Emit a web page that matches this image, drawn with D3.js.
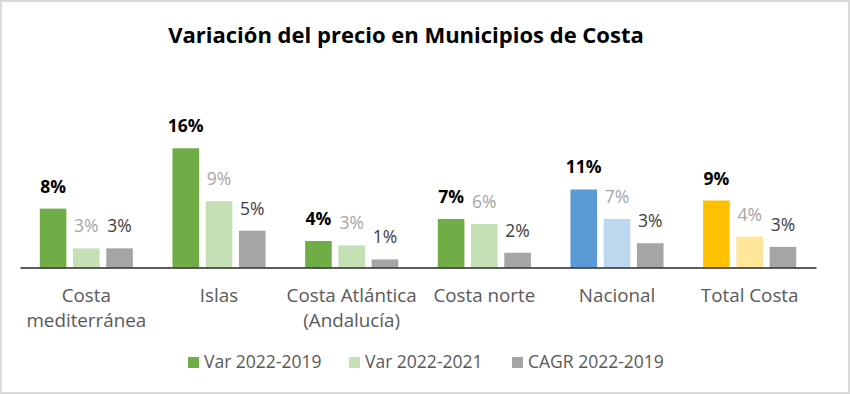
<!DOCTYPE html>
<html>
<head>
<meta charset="utf-8">
<script src="https://cdn.jsdelivr.net/npm/d3@7"></script>
<style>
  body { margin: 0; background: #fff; }
  svg { display: block; font-family: "Open Sans", "Noto Sans", sans-serif; }
</style>
</head>
<body>
<script>
// data (values in %)
var categories = ["Costa mediterránea", "Islas", "Costa Atlántica (Andalucía)", "Costa norte", "Nacional", "Total Costa"];
var categoryLines = [["Costa", "mediterránea"], ["Islas"], ["Costa Atlántica", "(Andalucía)"], ["Costa norte"], ["Nacional"], ["Total Costa"]];
var series = ["Var 2022-2019", "Var 2022-2021", "CAGR 2022-2019"];
var var2019 = [8.0, 16.2, 3.6, 6.6, 10.6, 9.1];
var var2021 = [2.6, 9.0, 3.0, 5.9, 6.6, 4.2];
var cagr2019 = [2.6, 5.0, 1.1, 2.0, 3.3, 2.8];
var values = [var2019, var2021, cagr2019];

var width = 850, height = 395;
var baseY = 267.5;

var seriesColor = ["#70ad47", "#c5e0b4", "#a5a5a5"];
var specialColor = {
  "Nacional": ["#5b9bd5", "#bdd7ee", "#a5a5a5"],
  "Total Costa": ["#ffc000", "#ffe699", "#a5a5a5"]
};
var labelStyle = [
  {fill: "#000", weight: "bold"},
  {fill: "#a6a6a6", weight: "normal"},
  {fill: "#404040", weight: "normal"}
];

var svg = d3.select("body").append("svg")
  .attr("width", width)
  .attr("height", height);

svg.append("rect")
  .attr("x", 1).attr("y", 1)
  .attr("width", width - 2).attr("height", height - 3)
  .attr("fill", "#fff")
  .attr("stroke", "#d9d9d9")
  .attr("stroke-width", 2);

svg.append("text")
  .attr("x", 406).attr("y", 43)
  .attr("text-anchor", "middle")
  .style("font-size", "22px")
  .style("font-weight", "bold")
  .attr("fill", "#000")
  .text("Variación del precio en Municipios de Costa");

var x0 = d3.scaleBand().domain(categories).range([20, 816]).padding(0);
var x1 = d3.scaleBand().domain(series)
  .range([19.8, x0.bandwidth() - 19.8])
  .paddingInner(0.2);
var y = d3.scaleLinear().domain([0, 20]).range([baseY, baseY - 147.2]);

var rows = [];
categories.forEach(function(c, i) {
  series.forEach(function(s, j) {
    rows.push({cat: c, s: s, j: j, v: values[j][i]});
  });
});

var groups = svg.append("g");

groups.selectAll("rect.bar")
  .data(rows)
  .enter().append("rect")
  .attr("class", "bar")
  .attr("x", function(d) { return x0(d.cat) + x1(d.s); })
  .attr("y", function(d) { return y(d.v); })
  .attr("width", x1.bandwidth())
  .attr("height", function(d) { return baseY - y(d.v); })
  .attr("fill", function(d) {
    return (specialColor[d.cat] || seriesColor)[d.j];
  });

groups.selectAll("text.val")
  .data(rows)
  .enter().append("text")
  .attr("class", "val")
  .attr("x", function(d) { return x0(d.cat) + x1(d.s) + x1.bandwidth() / 2; })
  .attr("y", function(d) { return y(d.v) - 16; })
  .attr("text-anchor", "middle")
  .style("font-size", "17.5px")
  .style("font-weight", function(d) { return labelStyle[d.j].weight; })
  .attr("fill", function(d) { return labelStyle[d.j].fill; })
  .text(function(d) { return Math.round(d.v) + "%"; });

// category axis
var xAxis = d3.axisBottom(x0).tickSize(0).tickFormat("");
var axisG = svg.append("g")
  .attr("transform", "translate(0," + baseY + ")")
  .call(xAxis);
axisG.select(".domain").attr("stroke", "#262626").attr("stroke-width", 1.5);

var catLabels = svg.append("g").selectAll("text.cat")
  .data(categories)
  .enter().append("text")
  .attr("class", "cat")
  .attr("x", function(d) { return x0(d) + x0.bandwidth() / 2; })
  .attr("y", 302)
  .attr("text-anchor", "middle")
  .style("font-size", "18.8px")
  .attr("fill", "#595959");

catLabels.each(function(d, i) {
  var t = d3.select(this);
  categoryLines[i].forEach(function(line, k) {
    t.append("tspan")
      .attr("x", x0(d) + x0.bandwidth() / 2)
      .attr("dy", k === 0 ? 0 : 25)
      .text(line);
  });
});

// legend
var legendX = [188, 349, 512];
var legend = svg.append("g").selectAll("g.leg")
  .data(series)
  .enter().append("g")
  .attr("class", "leg")
  .attr("transform", function(d, i) { return "translate(" + legendX[i] + ",357)"; });

legend.append("rect")
  .attr("width", 11).attr("height", 11)
  .attr("fill", function(d, i) { return seriesColor[i]; });

legend.append("text")
  .attr("x", 16).attr("y", 11)
  .style("font-size", "17.5px")
  .attr("fill", "#595959")
  .text(function(d) { return d; });
</script>
</body>
</html>
